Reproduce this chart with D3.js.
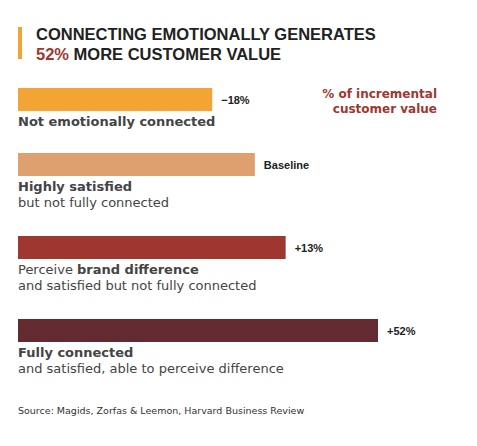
<!DOCTYPE html>
<html lang="en">
<head>
<meta charset="UTF-8">
<script src="https://d3js.org/d3.v7.min.js"></script>
<style>body{margin:0;background:#fff;} text{font-family:"Liberation Sans",Arial,sans-serif;} .w{font-family:"DejaVu Sans",sans-serif;}</style>
</head>
<body>
<script>
  const labels = ["−18%", "Baseline", "+13%", "+52%"];
  const values = [-18, 0, 13, 52];
  const colors = ["#f2a535", "#dea06f", "#9e3730", "#632b31"];
  const captions = [
    [[["Not emotionally connected", true]]],
    [[["Highly satisfied", true]], [["but not fully connected", false]]],
    [[["Perceive ", false], ["brand difference", true]], [["and satisfied but not fully connected", false]]],
    [[["Fully connected", true]], [["and satisfied, able to perceive difference", false]]]
  ];
  const barTops = [88, 153, 236, 319];

  const svg = d3.select("body").append("svg").attr("width", 477).attr("height", 446);
  const x = d3.scaleLinear().domain([0, 152]).range([0, 360]);

  svg.append("rect").attr("x", 18).attr("y", 27).attr("width", 4).attr("height", 32).attr("fill", "#f2a535");
  svg.append("text").attr("x", 36).attr("y", 40).attr("font-size", 16.5).attr("font-weight", "bold").attr("fill", "#222")
    .text("CONNECTING EMOTIONALLY GENERATES");
  const t2 = svg.append("text").attr("x", 36).attr("y", 60).attr("font-size", 16.5).attr("font-weight", "bold").attr("fill", "#222");
  t2.append("tspan").attr("fill", "#9e3730").text("52%");
  t2.append("tspan").text(" MORE CUSTOMER VALUE");

  svg.append("text").attr("class", "w").attr("x", 437).attr("y", 98).attr("text-anchor", "end").attr("font-size", 12).attr("font-weight", "bold").attr("fill", "#9e3730").text("% of incremental");
  svg.append("text").attr("class", "w").attr("x", 437).attr("y", 113).attr("text-anchor", "end").attr("font-size", 12).attr("font-weight", "bold").attr("fill", "#9e3730").text("customer value");

  values.forEach((v, i) => {
    const w = x(100 + v);
    svg.append("rect").attr("x", 18).attr("y", barTops[i]).attr("width", w).attr("height", 23).attr("fill", colors[i]);
    svg.append("text").attr("x", 18 + w + 9).attr("y", barTops[i] + 16).attr("font-size", 11).attr("font-weight", "bold").attr("fill", "#222").text(labels[i]);
    captions[i].forEach((ln, j) => {
      const t = svg.append("text").attr("class", "w").attr("x", 18).attr("y", barTops[i] + 38 + j * 16).attr("font-size", 13).attr("fill", "#444");
      ln.forEach(([s, b]) => t.append("tspan").attr("font-weight", b ? "bold" : "normal").text(s));
    });
  });

  svg.append("text").attr("class", "w").attr("x", 18).attr("y", 414).attr("font-size", 9.5).attr("fill", "#333")
    .text("Source: Magids, Zorfas & Leemon, Harvard Business Review");
</script>
</body>
</html>
